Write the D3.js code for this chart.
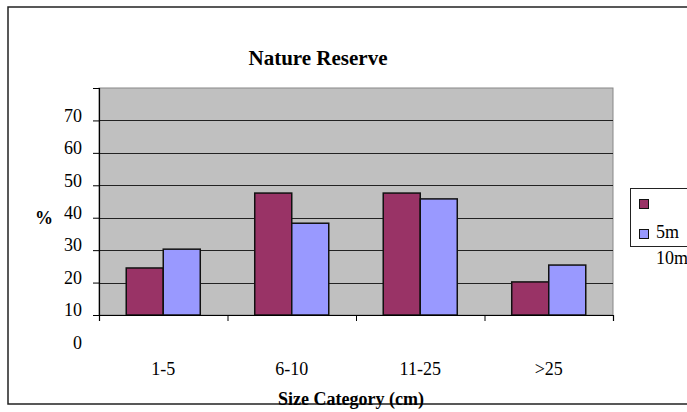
<!DOCTYPE html>
<html>
<head>
<meta charset="utf-8">
<script src="https://cdn.jsdelivr.net/npm/d3@7"></script>
<style>
  body { margin: 0; background: #fff; }
  svg { display: block; }
  text { font-family: "Liberation Serif", "Times New Roman", serif; fill: #000; }
</style>
</head>
<body>
<script>
// chart data (values as they show on the printed axis)
var categories = ["1-5", "6-10", "11-25", ">25"];
var seriesNames = ["5m", "10m"];
var values5m  = [24.5, 47.6, 47.6, 20.2];
var values10m = [30.3, 38.3, 45.8, 25.4];
var yTickLabels = [0, 10, 20, 30, 40, 50, 60, 70];
var colors = ["#993366", "#9999ff"];

var w = 687, h = 412;
var plotL = 99, plotR = 613, plotT = 88, plotB = 315;

var svg = d3.select("body").append("svg")
  .attr("width", w)
  .attr("height", h);

// outer frame
svg.append("path")
  .attr("d", "M" + (w + 2) + ",7 H8 V404 H" + (w + 2))
  .attr("fill", "none")
  .attr("stroke", "#222")
  .attr("stroke-width", 1.5);

var xScale = d3.scaleBand()
  .domain(categories)
  .range([plotL, plotR])
  .paddingInner(0.424)
  .paddingOuter(0.212);

var xSub = d3.scaleBand()
  .domain(seriesNames)
  .range([0, xScale.bandwidth()]);

var yScale = d3.scaleLinear()
  .domain([10, 80])
  .range([plotB, plotT]);

// plot area
svg.append("rect")
  .attr("x", plotL)
  .attr("y", plotT)
  .attr("width", plotR - plotL)
  .attr("height", plotB - plotT)
  .attr("fill", "#c0c0c0")
  .attr("stroke", "#888")
  .attr("stroke-width", 1);

// gridlines
svg.selectAll("line.grid")
  .data(d3.range(20, 80, 10))
  .enter()
  .append("line")
  .attr("class", "grid")
  .attr("x1", plotL)
  .attr("x2", plotR)
  .attr("y1", function(d) { return Math.round(yScale(d)) + 0.5; })
  .attr("y2", function(d) { return Math.round(yScale(d)) + 0.5; })
  .attr("stroke", "#222")
  .attr("stroke-width", 1);

// bars
var rows = categories.map(function(c, i) {
  return { cat: c, vals: [values5m[i], values10m[i]] };
});

var groups = svg.selectAll("g.cat")
  .data(rows)
  .enter()
  .append("g")
  .attr("class", "cat")
  .attr("transform", function(d) { return "translate(" + xScale(d.cat) + ",0)"; });

groups.selectAll("rect")
  .data(function(d) {
    return d.vals.map(function(v, j) { return { name: seriesNames[j], v: v, j: j }; });
  })
  .enter()
  .append("rect")
  .attr("x", function(d) { return xSub(d.name); })
  .attr("y", function(d) { return yScale(d.v); })
  .attr("width", xSub.bandwidth())
  .attr("height", function(d) { return yScale(10) - yScale(d.v); })
  .attr("fill", function(d) { return colors[d.j]; })
  .attr("stroke", "#111")
  .attr("stroke-width", 1.5);

// y axis (line + ticks), labels sit a bit above each tick like the original
var yAxis = d3.axisLeft(yScale)
  .tickValues(d3.range(10, 90, 10))
  .tickSize(6)
  .tickFormat("");
svg.append("g")
  .attr("transform", "translate(" + plotL + ",0)")
  .call(yAxis)
  .call(function(g) {
    g.select(".domain").attr("stroke", "#000").attr("stroke-width", 1.2);
    g.selectAll(".tick line").attr("stroke", "#000");
  });

svg.selectAll("text.ylab")
  .data(yTickLabels)
  .enter()
  .append("text")
  .attr("class", "ylab")
  .attr("x", 82)
  .attr("y", function(d) { return yScale(d) - 5; })
  .attr("dy", "0.35em")
  .attr("text-anchor", "end")
  .attr("font-size", "18px")
  .text(function(d) { return d; });

// x axis
var xAxis = d3.axisBottom(d3.scaleLinear().domain([0, categories.length]).range([plotL, plotR]))
  .ticks(categories.length)
  .tickSize(6)
  .tickFormat("");
svg.append("g")
  .attr("transform", "translate(0," + plotB + ")")
  .call(xAxis)
  .call(function(g) {
    g.select(".domain").attr("stroke", "#000").attr("stroke-width", 1.2);
    g.selectAll(".tick line").attr("stroke", "#000");
  });

svg.selectAll("text.xlab")
  .data(categories)
  .enter()
  .append("text")
  .attr("class", "xlab")
  .attr("x", function(d) { return xScale(d) + xScale.bandwidth() / 2; })
  .attr("y", 369)
  .attr("dy", "0.35em")
  .attr("text-anchor", "middle")
  .attr("font-size", "18px")
  .text(function(d) { return d; });

// titles
svg.append("text")
  .attr("x", 318)
  .attr("y", 58)
  .attr("dy", "0.35em")
  .attr("text-anchor", "middle")
  .attr("font-size", "21px")
  .attr("font-weight", "bold")
  .text("Nature Reserve");

svg.append("text")
  .attr("x", 351)
  .attr("y", 399)
  .attr("dy", "0.35em")
  .attr("text-anchor", "middle")
  .attr("font-size", "18px")
  .attr("font-weight", "bold")
  .text("Size Category (cm)");

svg.append("text")
  .attr("x", 44)
  .attr("y", 218)
  .attr("dy", "0.35em")
  .attr("text-anchor", "middle")
  .attr("font-size", "18px")
  .attr("font-weight", "bold")
  .text("%");

// legend (labels come out shifted one row down, as in the original)
var legend = svg.append("g");
legend.append("rect")
  .attr("x", 630.5)
  .attr("y", 188.5)
  .attr("width", 70)
  .attr("height", 58)
  .attr("fill", "#fff")
  .attr("stroke", "#222")
  .attr("stroke-width", 1);

legend.selectAll("rect.sw")
  .data(colors)
  .enter()
  .append("rect")
  .attr("class", "sw")
  .attr("x", 639.5)
  .attr("y", function(d, i) { return 199.5 + i * 30; })
  .attr("width", 9)
  .attr("height", 9)
  .attr("fill", function(d) { return d; })
  .attr("stroke", "#111")
  .attr("stroke-width", 1);

legend.selectAll("text")
  .data(seriesNames)
  .enter()
  .append("text")
  .attr("x", 656)
  .attr("y", function(d, i) { return 232 + i * 26; })
  .attr("dy", "0.35em")
  .attr("font-size", "18px")
  .text(function(d) { return d; });
</script>
</body>
</html>
